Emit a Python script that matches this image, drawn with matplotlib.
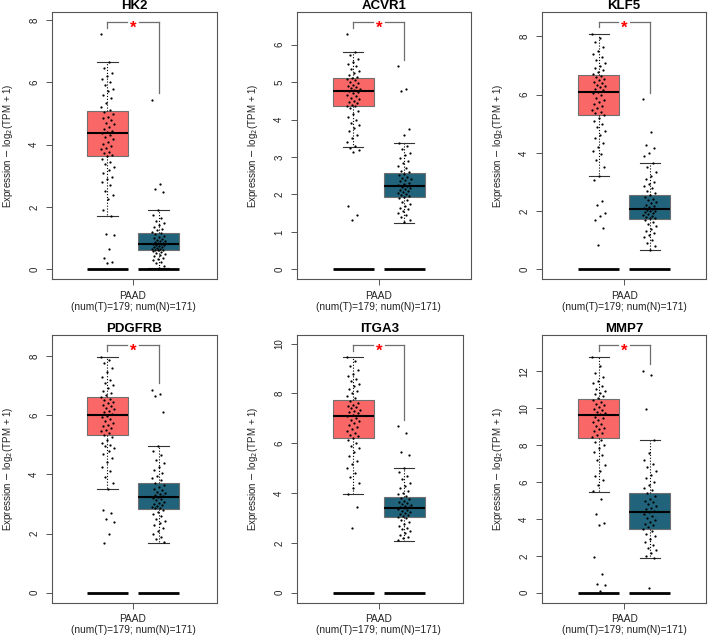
import matplotlib
matplotlib.use("Agg")
import matplotlib.pyplot as plt
from matplotlib.transforms import offset_copy

plt.rcParams['font.family'] = ['Liberation Sans', 'DejaVu Sans']

genes = ["HK2", "ACVR1", "KLF5", "PDGFRB", "ITGA3", "MMP7"]
y_ticks = [[0, 2, 4, 6, 8], [0, 1, 2, 3, 4, 5, 6], [0, 2, 4, 6, 8],
           [0, 2, 4, 6, 8], [0, 2, 4, 6, 8, 10], [0, 2, 4, 6, 8, 10, 12]]
bracket_top = [7.93, 6.60, 8.49, 8.37, 9.95, 13.43]
x_label = "PAAD\n(num(T)=179; num(N)=171)"

# box stats per gene: q1, median, q3, whisker low, whisker high
tumor_box = [[3.64, 4.36, 5.09, 1.70, 6.65],
             [4.35, 4.75, 5.10, 3.28, 5.81],
             [5.30, 6.09, 6.68, 3.22, 8.10],
             [5.32, 6.02, 6.60, 3.50, 7.97],
             [6.21, 7.10, 7.73, 3.95, 9.45],
             [8.36, 9.63, 10.52, 5.48, 12.78]]
normal_box = [[0.61, 0.83, 1.16, 0.05, 1.89],
              [1.93, 2.23, 2.58, 1.25, 3.37],
              [1.74, 2.07, 2.56, 0.65, 3.64],
              [2.84, 3.22, 3.72, 1.69, 4.97],
              [3.04, 3.42, 3.85, 2.09, 5.00],
              [3.44, 4.40, 5.43, 1.86, 8.27]]

# expression values
hk2_t = [7.55, 6.65, 6.45, 6.3, 6.2, 6.1, 6.02, 5.9, 5.8, 5.72, 5.6, 5.5, 5.35, 5.2, 5.12,
         5.05, 4.98, 4.9, 4.85, 4.78, 4.7, 4.65, 4.58, 4.5, 4.45, 4.4, 4.36,
         4.3, 4.25, 4.18, 4.1, 4.02, 3.95, 3.9, 3.85, 3.78, 3.72, 3.68, 3.64,
         3.55, 3.45, 3.38, 3.3, 3.2, 3.1, 2.98, 2.9, 2.8, 2.7, 2.5, 2.4, 2.25, 1.9, 1.7,
         1.13, 1.10, 0.65, 0.35, 0.24, 0.19]
hk2_n = [5.45, 2.75, 2.58, 2.48, 1.89, 1.75, 1.65, 1.55, 1.48, 1.42, 1.36, 1.3, 1.25, 1.2, 1.16,
         1.12, 1.08, 1.04, 1.0, 0.97, 0.94, 0.92, 0.9, 0.88, 0.86, 0.84, 0.83,
         0.81, 0.79, 0.77, 0.75, 0.73, 0.71, 0.69, 0.67, 0.65, 0.63, 0.62, 0.61,
         0.58, 0.55, 0.52, 0.48, 0.45, 0.42, 0.38, 0.34, 0.3, 0.25, 0.2, 0.12, 0.05]
acvr1_t = [6.29, 5.81, 5.72, 5.62, 5.55, 5.48, 5.42, 5.36, 5.3, 5.25, 5.2, 5.15, 5.12,
           5.08, 5.05, 5.0, 4.97, 4.93, 4.9, 4.87, 4.84, 4.81, 4.78, 4.76,
           4.73, 4.7, 4.66, 4.62, 4.58, 4.55, 4.5, 4.47, 4.43, 4.4, 4.37, 4.35,
           4.3, 4.22, 4.15, 4.08, 4.0, 3.92, 3.85, 3.78, 3.7, 3.6, 3.5, 3.4, 3.3, 3.25, 3.18, 3.13,
           1.68, 1.46, 1.33]
acvr1_n = [5.42, 4.82, 4.75, 3.75, 3.6, 3.37, 3.3, 3.22, 3.12, 3.05, 2.98, 2.9, 2.83, 2.76, 2.7, 2.64, 2.6,
           2.56, 2.52, 2.48, 2.45, 2.41, 2.38, 2.35, 2.32, 2.29, 2.26, 2.24,
           2.21, 2.18, 2.15, 2.12, 2.09, 2.06, 2.03, 2.0, 1.98, 1.96, 1.94,
           1.9, 1.85, 1.8, 1.75, 1.7, 1.65, 1.6, 1.55, 1.5, 1.45, 1.4, 1.33, 1.27]
klf5_t = [8.1, 7.95, 7.8, 7.65, 7.5, 7.4, 7.3, 7.2, 7.1, 7.0, 6.92, 6.85, 6.78, 6.72,
          6.65, 6.6, 6.55, 6.5, 6.45, 6.4, 6.35, 6.3, 6.25, 6.2, 6.15, 6.1,
          6.05, 5.98, 5.9, 5.82, 5.75, 5.68, 5.6, 5.55, 5.48, 5.42, 5.36, 5.31,
          5.2, 5.1, 5.0, 4.88, 4.75, 4.6, 4.5, 4.35, 4.2, 4.05, 3.95, 3.75, 3.5, 3.22,
          3.08, 2.34, 2.22, 1.94, 1.82, 1.71, 1.41, 0.85]
klf5_n = [5.86, 4.71, 4.26, 4.16, 4.0, 3.88, 3.64, 3.5, 3.35, 3.2, 3.1, 3.0, 2.92, 2.85, 2.78, 2.7, 2.62,
          2.54, 2.48, 2.42, 2.37, 2.32, 2.27, 2.22, 2.18, 2.14, 2.1, 2.08,
          2.05, 2.02, 1.99, 1.96, 1.93, 1.9, 1.87, 1.84, 1.81, 1.78, 1.75,
          1.7, 1.62, 1.55, 1.48, 1.4, 1.32, 1.25, 1.18, 1.1, 1.0, 0.92, 0.8, 0.65]
pdgfrb_t = [7.97, 7.85, 7.75, 7.6, 7.45, 7.3, 7.2, 7.1, 7.0, 6.9, 6.82, 6.75, 6.68,
            6.62, 6.56, 6.5, 6.45, 6.4, 6.35, 6.3, 6.25, 6.2, 6.15, 6.1, 6.05,
            5.98, 5.92, 5.86, 5.8, 5.74, 5.68, 5.62, 5.56, 5.5, 5.45, 5.4, 5.34,
            5.25, 5.15, 5.05, 5.0, 4.95, 4.9, 4.8, 4.7, 4.55, 4.4, 4.25, 4.1, 3.9, 3.7, 3.5,
            2.78, 2.71, 2.48, 2.38, 2.0, 1.69]
pdgfrb_n = [6.86, 6.72, 6.64, 6.1, 4.97, 4.8, 4.65, 4.5, 4.38, 4.25, 4.15, 4.05, 3.95, 3.88, 3.8,
            3.7, 3.64, 3.58, 3.52, 3.47, 3.42, 3.38, 3.34, 3.3, 3.26, 3.23,
            3.2, 3.16, 3.12, 3.08, 3.04, 3.0, 2.96, 2.93, 2.9, 2.87, 2.85,
            2.8, 2.72, 2.65, 2.58, 2.5, 2.42, 2.35, 2.28, 2.2, 2.1, 2.0, 1.9, 1.8, 1.7]
itga3_t = [9.45, 9.3, 9.1, 8.95, 8.8, 8.7, 8.6, 8.5, 8.4, 8.3, 8.2, 8.1, 8.0, 7.9, 7.8,
           7.7, 7.62, 7.55, 7.5, 7.45, 7.4, 7.35, 7.3, 7.25, 7.2, 7.15, 7.1,
           7.02, 6.95, 6.88, 6.8, 6.72, 6.65, 6.58, 6.5, 6.42, 6.35, 6.28, 6.22,
           6.12, 6.0, 5.9, 5.8, 5.65, 5.5, 5.3, 5.15, 5.0, 4.8, 4.65, 4.4, 4.2, 3.95,
           3.44, 2.59]
itga3_n = [6.68, 6.43, 5.67, 5.52, 5.0, 4.85, 4.7, 4.55, 4.42, 4.3, 4.2, 4.1, 4.02, 3.95, 3.88,
           3.82, 3.76, 3.7, 3.65, 3.6, 3.56, 3.52, 3.48, 3.45, 3.43,
           3.4, 3.37, 3.33, 3.29, 3.25, 3.21, 3.17, 3.13, 3.09, 3.06,
           3.0, 2.92, 2.85, 2.78, 2.7, 2.62, 2.55, 2.48, 2.4, 2.32, 2.25, 2.18, 2.1]
mmp7_t = [12.78, 12.3, 11.9, 11.7, 11.5, 11.35, 11.2, 11.05, 10.95, 10.85, 10.75, 10.65, 10.55,
          10.45, 10.35, 10.25, 10.15, 10.05, 9.95, 9.88, 9.8, 9.72, 9.66,
          9.55, 9.45, 9.35, 9.25, 9.15, 9.05, 8.95, 8.85, 8.75, 8.65, 8.55, 8.42,
          8.3, 8.15, 8.0, 7.85, 7.65, 7.45, 7.2, 6.9, 6.6, 6.35, 6.1, 5.85, 5.5,
          5.10, 4.27, 3.80, 3.66, 1.94, 1.0, 0.45, 0.4, 0.07]
mmp7_n = [12.04, 11.8, 9.95, 8.27, 7.6, 7.2, 7.0, 6.8, 6.6, 6.4, 6.2, 6.0, 5.85, 5.7, 5.55,
          5.38, 5.25, 5.1, 5.0, 4.9, 4.8, 4.7, 4.6, 4.52, 4.45,
          4.35, 4.25, 4.15, 4.05, 3.95, 3.85, 3.75, 3.65, 3.55, 3.47,
          3.35, 3.2, 3.05, 2.9, 2.75, 2.6, 2.45, 2.3, 2.15, 2.0, 1.86, 0.27]

tumor_pts = [hk2_t, acvr1_t, klf5_t, pdgfrb_t, itga3_t, mmp7_t]
normal_pts = [hk2_n, acvr1_n, klf5_n, pdgfrb_n, itga3_n, mmp7_n]

W, H = 708, 636
# panel frame in pixels: left, top, right, bottom, x of the PAAD tick
panels = [(52, 12.3, 217, 279.3, 133), (297, 12.3, 471, 279.3, 378.7), (542, 12.3, 706, 279.3, 624.3),
          (52, 335, 217, 602.7, 133), (297, 335, 463, 602.7, 378.7), (542, 335, 706, 602.7, 624.3)]
px_per_unit = 102.0
pos = [0.75, 1.25]
colors = ["#F96767", "#21637A"]

fig = plt.figure(figsize=(W / 100, H / 100), dpi=100)

for i, gene in enumerate(genes):
    l, t, r, b, tx = panels[i]
    ax = fig.add_axes([l / W, 1 - b / H, (r - l) / W, (b - t) / H])
    ax.set_xlim(1 - (tx - l) / px_per_unit, 1 + (r - tx) / px_per_unit)
    top = bracket_top[i]
    ax.set_ylim(-0.04 * top, 1.04 * top)

    stats = []
    for bx in (tumor_box[i], normal_box[i]):
        stats.append(dict(q1=bx[0], med=bx[1], q3=bx[2], whislo=bx[3], whishi=bx[4], fliers=[]))
    bp = ax.bxp(stats, positions=pos, widths=0.4, capwidths=0.2, patch_artist=True,
                showfliers=False,
                boxprops=dict(edgecolor="#707070", linewidth=0.8),
                medianprops=dict(color="black", linewidth=1.5),
                whiskerprops=dict(color="black", linewidth=0.8, linestyle=(0, (1, 1.6))),
                capprops=dict(color="#333333", linewidth=0.8))
    for patch, c in zip(bp["boxes"], colors):
        patch.set_facecolor(c)

    # black bars on zero
    for p in pos:
        ax.hlines(0, p - 0.2, p + 0.2, color="black", linewidth=2.0, zorder=3)

    # jittered dots
    for p, vals in zip(pos, (tumor_pts[i], normal_pts[i])):
        xs = [p + ((k * 0.618034) % 1 - 0.5) * 0.13 for k in range(len(vals))]
        ax.scatter(xs, vals, s=2.6, color="black", linewidths=0, zorder=4)

    # significance bracket
    gap = 0.06
    lcol = "#6e6e6e"
    ax.plot([pos[0], pos[0]], [max(tumor_pts[i]) + 0.025 * top, top], color=lcol, lw=0.9)
    ax.plot([pos[1], pos[1]], [max(normal_pts[i]) + 0.025 * top, top], color=lcol, lw=0.9)
    ax.plot([pos[0], 1 - gap], [top, top], color=lcol, lw=0.9)
    ax.plot([1 + gap, pos[1]], [top, top], color=lcol, lw=0.9)
    tr = offset_copy(ax.transData, fig=fig, y=-7.5, units="points")
    ax.text(1, top, "*", color="red", fontsize=12, fontweight="bold", ha="center",
            va="baseline", transform=tr)

    ax.set_title(gene, fontsize=9.5, fontweight="bold", pad=2)
    ax.set_xticks([1])
    ax.set_xticklabels([x_label], fontsize=7.3, linespacing=1.15, color="#222222")
    ax.set_yticks(y_ticks[i])
    ax.set_yticklabels([str(v) for v in y_ticks[i]], fontsize=7, color="#222222",
                       rotation=90, va="center")
    ax.tick_params(axis="both", length=4.2, width=0.7, color="#555555")
    ax.tick_params(axis="y", pad=5)
    ax.tick_params(axis="x", pad=4)
    ax.set_ylabel(r"Expression $-$ log$_2$(TPM + 1)", fontsize=7, color="#222222", va="center")
    ax.yaxis.set_label_coords(-44 / (r - l), 0.5)
    for sp in ax.spines.values():
        sp.set_color("#555555")
        sp.set_linewidth(0.8)

fig.savefig("out.png", dpi=100)
